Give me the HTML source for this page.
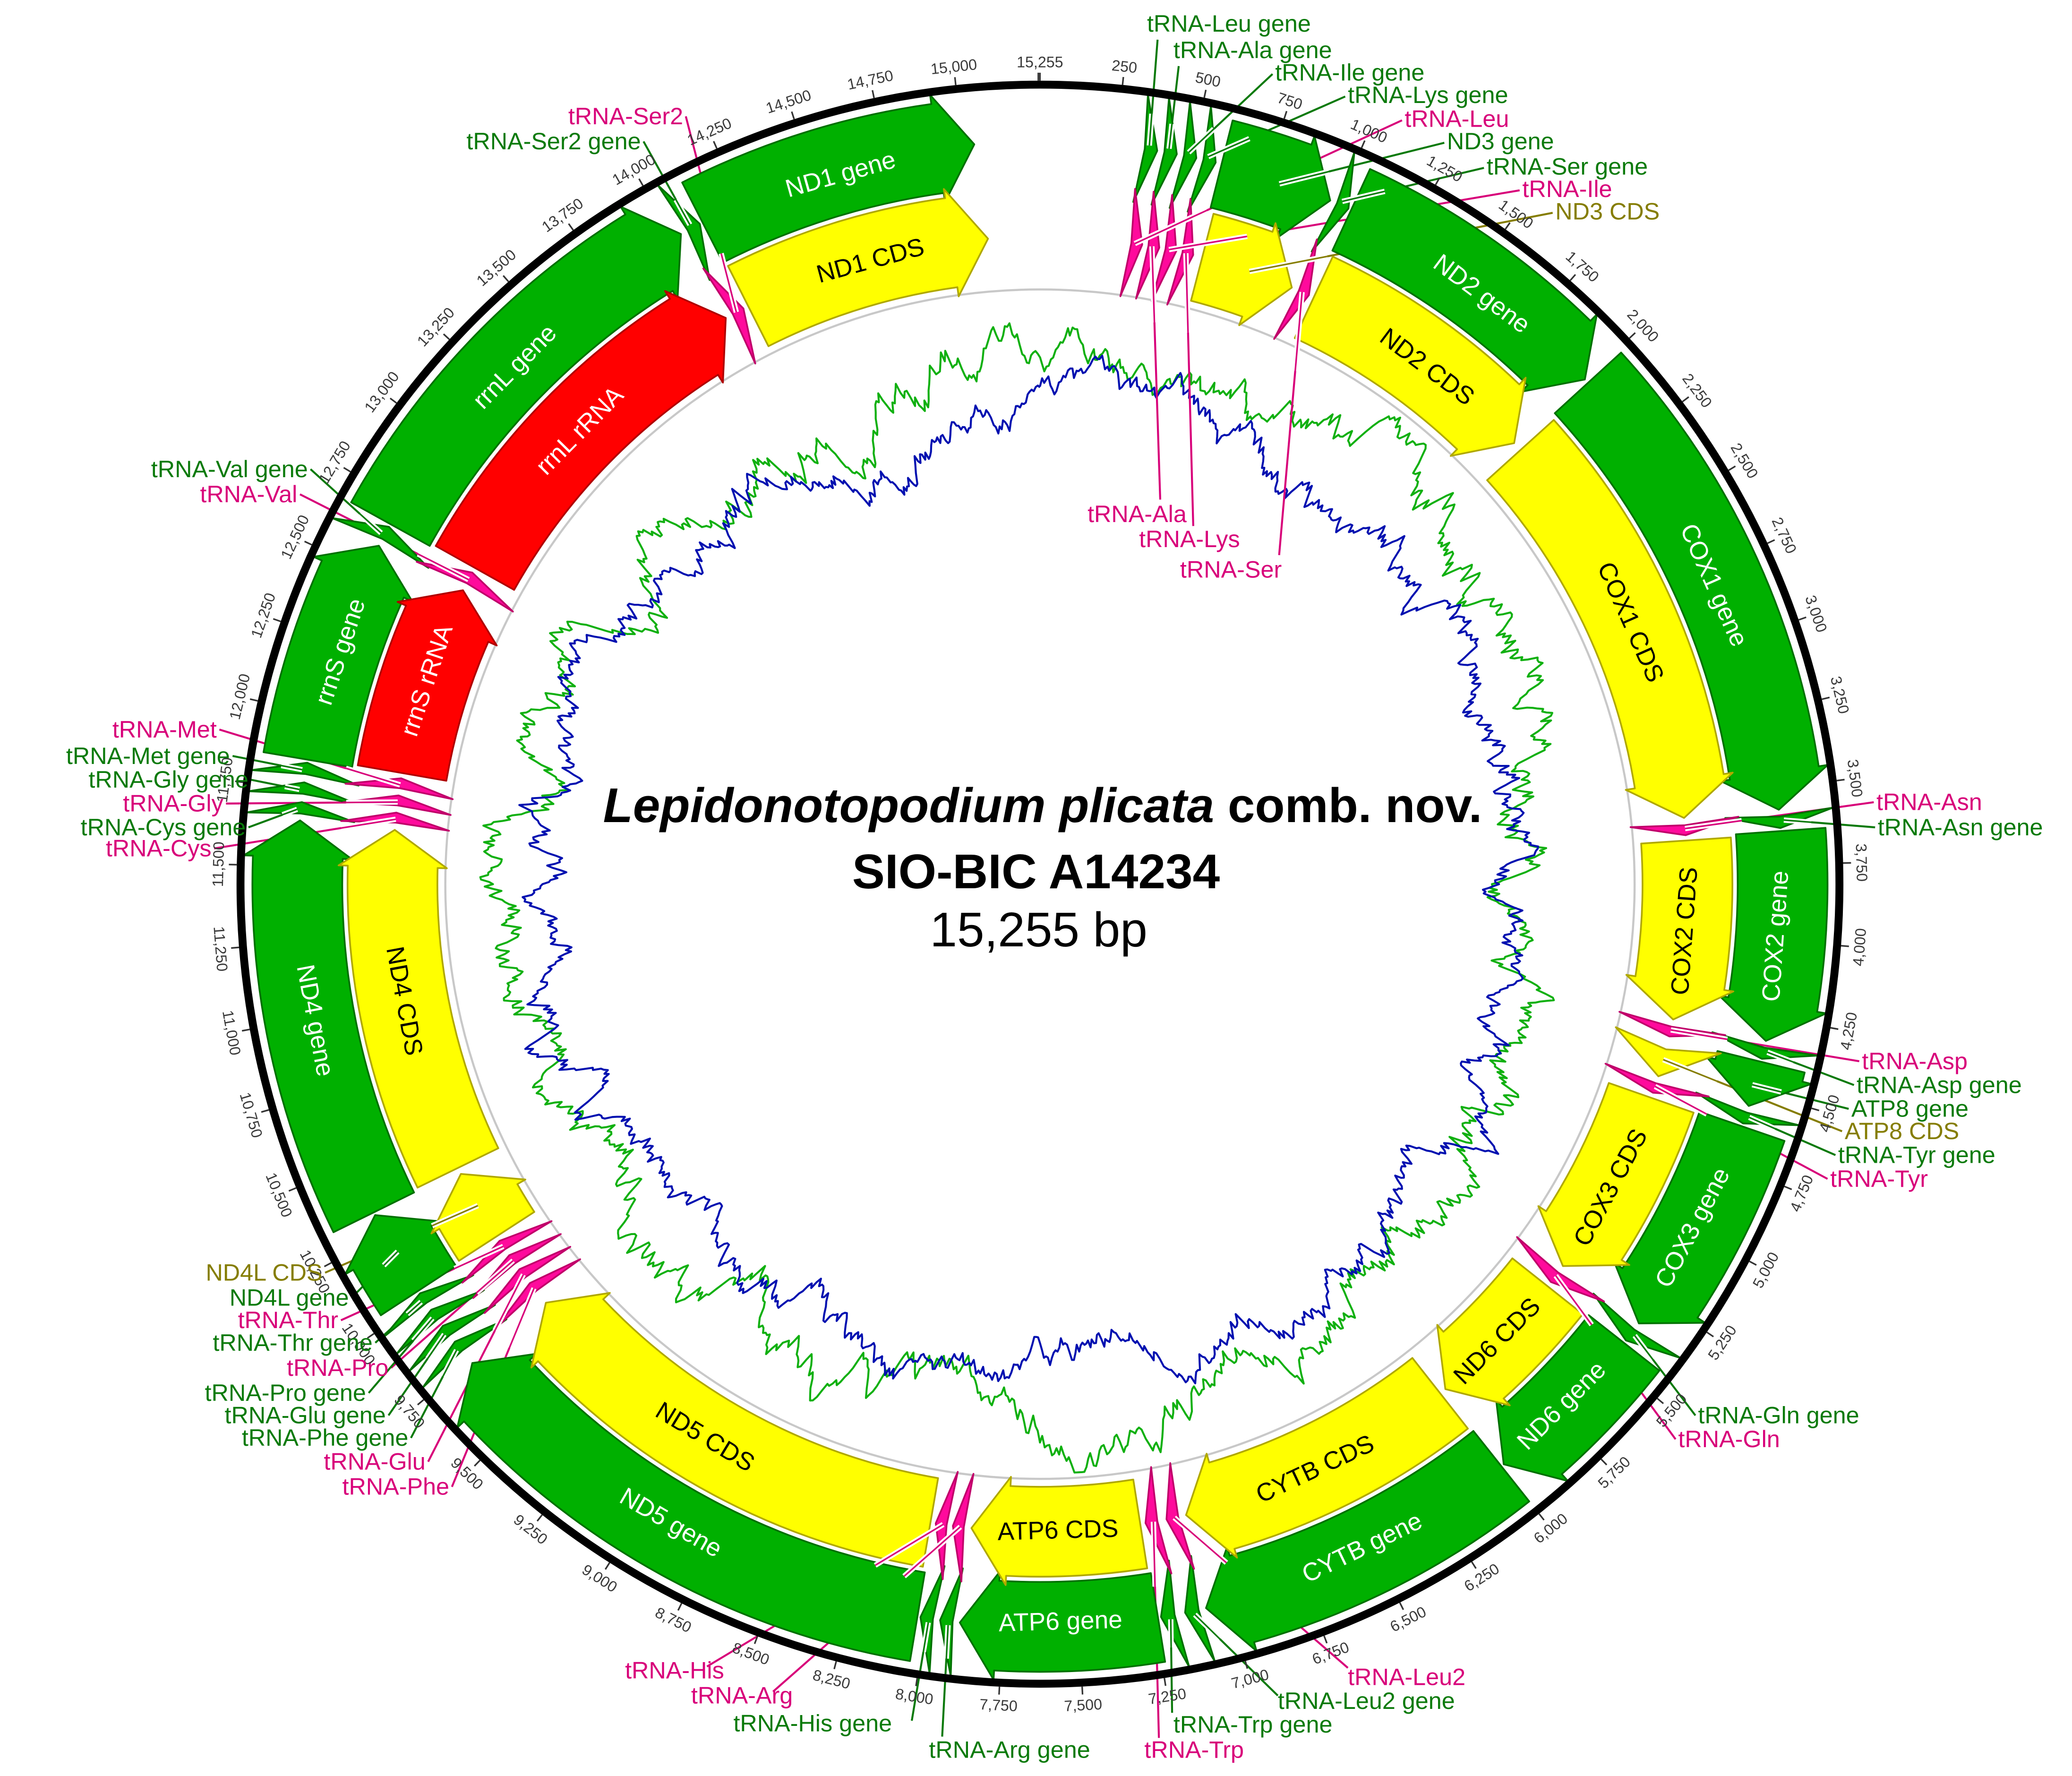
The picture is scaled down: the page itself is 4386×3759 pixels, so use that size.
<!DOCTYPE html>
<html><head><meta charset="utf-8">
<style>
html,body{margin:0;padding:0;background:#fff;}
svg{display:block;}
text{font-family:"Liberation Sans",sans-serif;}
.tk{font-size:11.5px;fill:#3a3a3a;}
.fl{font-size:19px;}
.cg{font-size:18px;fill:#0a7a0a;}
.cp{font-size:18px;fill:#d8007a;}
.co{font-size:18px;fill:#857d00;}
</style></head>
<body>
<svg id="s" xmlns="http://www.w3.org/2000/svg" width="4386" height="3759" viewBox="0 0 1568 1343.8">
<rect width="1568" height="1343.8" fill="#fff"/>
<g id="gc"></g>
<circle cx="787" cy="669" r="450" fill="none" stroke="#c8c8c8" stroke-width="1.6"/>
<g id="leads"></g>
<g id="feats"></g>
<circle cx="787" cy="669" r="605" fill="none" stroke="#000" stroke-width="6"/>
<g id="ticks"></g>
<g id="tls">
<text class="tk">250</text><text class="tk">500</text><text class="tk">750</text><text class="tk">1,000</text><text class="tk">1,250</text><text class="tk">1,500</text><text class="tk">1,750</text><text class="tk">2,000</text><text class="tk">2,250</text><text class="tk">2,500</text><text class="tk">2,750</text><text class="tk">3,000</text><text class="tk">3,250</text><text class="tk">3,500</text><text class="tk">3,750</text><text class="tk">4,000</text><text class="tk">4,250</text><text class="tk">4,500</text><text class="tk">4,750</text><text class="tk">5,000</text><text class="tk">5,250</text><text class="tk">5,500</text><text class="tk">5,750</text><text class="tk">6,000</text><text class="tk">6,250</text><text class="tk">6,500</text><text class="tk">6,750</text><text class="tk">7,000</text><text class="tk">7,250</text><text class="tk">7,500</text><text class="tk">7,750</text><text class="tk">8,000</text><text class="tk">8,250</text><text class="tk">8,500</text><text class="tk">8,750</text><text class="tk">9,000</text><text class="tk">9,250</text><text class="tk">9,500</text><text class="tk">9,750</text><text class="tk">10,000</text><text class="tk">10,250</text><text class="tk">10,500</text><text class="tk">10,750</text><text class="tk">11,000</text><text class="tk">11,250</text><text class="tk">11,500</text><text class="tk">11,750</text><text class="tk">12,000</text><text class="tk">12,250</text><text class="tk">12,500</text><text class="tk">12,750</text><text class="tk">13,000</text><text class="tk">13,250</text><text class="tk">13,500</text><text class="tk">13,750</text><text class="tk">14,000</text><text class="tk">14,250</text><text class="tk">14,500</text><text class="tk">14,750</text><text class="tk">15,000</text><text class="tk">15,255</text>
</g>
<g id="fls">
<text class="fl" p="14590" r="558" fill="#fff">ND1 gene</text>
<text class="fl" p="14610" r="489" fill="#000">ND1 CDS</text>
<text class="fl" p="13330" r="558" fill="#fff">rrnL gene</text>
<text class="fl" p="13330" r="489" fill="#fff">rrnL rRNA</text>
<text class="fl" p="12220" r="558" fill="#fff">rrnS gene</text>
<text class="fl" p="12220" r="489" fill="#fff">rrnS rRNA</text>
<text class="fl" p="10990" r="558" fill="#fff">ND4 gene</text>
<text class="fl" p="11000" r="489" fill="#000">ND4 CDS</text>
<text class="fl" p="8900" r="558" fill="#fff">ND5 gene</text>
<text class="fl" p="8950" r="489" fill="#000">ND5 CDS</text>
<text class="fl" p="7560" r="558" fill="#fff">ATP6 gene</text>
<text class="fl" p="7560" r="489" fill="#000">ATP6 CDS</text>
<text class="fl" p="6530" r="558" fill="#fff">CYTB gene</text>
<text class="fl" p="6560" r="489" fill="#000">CYTB CDS</text>
<text class="fl" p="5720" r="558" fill="#fff">ND6 gene</text>
<text class="fl" p="5720" r="489" fill="#000">ND6 CDS</text>
<text class="fl" p="4990" r="558" fill="#fff">COX3 gene</text>
<text class="fl" p="5000" r="489" fill="#000">COX3 CDS</text>
<text class="fl" p="3985" r="558" fill="#fff">COX2 gene</text>
<text class="fl" p="3990" r="489" fill="#000">COX2 CDS</text>
<text class="fl" p="2800" r="558" fill="#fff">COX1 gene</text>
<text class="fl" p="2800" r="489" fill="#000">COX1 CDS</text>
<text class="fl" p="1560" r="558" fill="#fff">ND2 gene</text>
<text class="fl" p="1560" r="489" fill="#000">ND2 CDS</text>
</g>
<g>
<text class="cg" x="868" y="24">tRNA-Leu gene</text>
<text class="cg" x="888" y="44">tRNA-Ala gene</text>
<text class="cg" x="965" y="61">tRNA-Ile gene</text>
<text class="cg" x="1020" y="78">tRNA-Lys gene</text>
<text class="cp" x="1063" y="96">tRNA-Leu</text>
<text class="cg" x="1095" y="113">ND3 gene</text>
<text class="cg" x="1125" y="132">tRNA-Ser gene</text>
<text class="cp" x="1152" y="149">tRNA-Ile</text>
<text class="co" x="1177" y="166">ND3 CDS</text>
<text class="cp" x="823" y="395">tRNA-Ala</text>
<text class="cp" x="862" y="414">tRNA-Lys</text>
<text class="cp" x="893" y="437">tRNA-Ser</text>
<text class="cp" x="1420" y="613">tRNA-Asn</text>
<text class="cg" x="1421" y="632">tRNA-Asn gene</text>
<text class="cp" x="1409" y="809">tRNA-Asp</text>
<text class="cg" x="1405" y="827">tRNA-Asp gene</text>
<text class="cg" x="1401" y="845">ATP8 gene</text>
<text class="co" x="1396" y="862">ATP8 CDS</text>
<text class="cg" x="1391" y="880">tRNA-Tyr gene</text>
<text class="cp" x="1385" y="898">tRNA-Tyr</text>
<text class="cg" x="1285" y="1077">tRNA-Gln gene</text>
<text class="cp" x="1270" y="1095">tRNA-Gln</text>
<text class="cp" x="1020" y="1275">tRNA-Leu2</text>
<text class="cg" x="967" y="1293">tRNA-Leu2 gene</text>
<text class="cg" x="888" y="1311">tRNA-Trp gene</text>
<text class="cp" x="866" y="1330">tRNA-Trp</text>
<text class="cp" x="473" y="1270">tRNA-His</text>
<text class="cp" x="523" y="1289">tRNA-Arg</text>
<text class="cg" x="555" y="1310">tRNA-His gene</text>
<text class="cg" x="703" y="1330">tRNA-Arg gene</text>
<text class="co" x="244" y="969" text-anchor="end">ND4L CDS</text>
<text class="cg" x="264" y="988" text-anchor="end">ND4L gene</text>
<text class="cp" x="256" y="1005" text-anchor="end">tRNA-Thr</text>
<text class="cg" x="282" y="1022" text-anchor="end">tRNA-Thr gene</text>
<text class="cp" x="294" y="1041" text-anchor="end">tRNA-Pro</text>
<text class="cg" x="277" y="1060" text-anchor="end">tRNA-Pro gene</text>
<text class="cg" x="292" y="1077" text-anchor="end">tRNA-Glu gene</text>
<text class="cg" x="309" y="1094" text-anchor="end">tRNA-Phe gene</text>
<text class="cp" x="322" y="1112" text-anchor="end">tRNA-Glu</text>
<text class="cp" x="340" y="1131" text-anchor="end">tRNA-Phe</text>
<text class="cp" x="164" y="558" text-anchor="end">tRNA-Met</text>
<text class="cg" x="174" y="578" text-anchor="end">tRNA-Met gene</text>
<text class="cg" x="188" y="596" text-anchor="end">tRNA-Gly gene</text>
<text class="cp" x="169" y="614" text-anchor="end">tRNA-Gly</text>
<text class="cg" x="186" y="632" text-anchor="end">tRNA-Cys gene</text>
<text class="cp" x="160" y="648" text-anchor="end">tRNA-Cys</text>
<text class="cg" x="233" y="361" text-anchor="end">tRNA-Val gene</text>
<text class="cp" x="225" y="380" text-anchor="end">tRNA-Val</text>
<text class="cp" x="517" y="94" text-anchor="end">tRNA-Ser2</text>
<text class="cg" x="485" y="113" text-anchor="end">tRNA-Ser2 gene</text>
</g>
<g text-anchor="middle" fill="#000">
<text x="789" y="622" font-size="37" font-weight="bold"><tspan font-style="italic">Lepidonotopodium plicata</tspan> comb. nov.</text>
<text x="784" y="672" font-size="37" font-weight="bold">SIO-BIC A14234</text>
<text x="786" y="716" font-size="37">15,255 bp</text>
</g>
</svg>
<script>
(function(){
var NS="http://www.w3.org/2000/svg",L=15255,CX=787,CY=669;
function pt(p,r){var a=p/L*2*Math.PI;return [CX+r*Math.sin(a),CY-r*Math.cos(a)];}
function P(a){return a[0].toFixed(2)+","+a[1].toFixed(2);}
function el(tag,attrs,parent){var e=document.createElementNS(NS,tag);for(var k in attrs)e.setAttribute(k,attrs[k]);parent.appendChild(e);return e;}
var feats=document.getElementById("feats"),leads=document.getElementById("leads");
var COL={g:["#00b000","#007000"],y:["#ffff00","#b0a800"],r:["#ff0000","#b00000"],p:["#ff0a9c","#c0006a"]};
var OUT=[528,596],IN=[456,524];
function arrow(p0,p1,tr,c){
 var rIn=tr[0],rOut=tr[1],mid=(rIn+rOut)/2,e=7;
 var hb=(28/mid)/(2*Math.PI)*L;
 var d;
 if(p1-p0<=hb*1.05){
  d="M"+P(pt(p0,rOut+e))+" L"+P(pt(p1,mid))+" L"+P(pt(p0,rIn-e))+" L"+P(pt(p0+(p1-p0)*0.25,mid))+" Z";
 } else {
  var ph=p1-hb,lg=((ph-p0)/L*360>180)?1:0;
  d="M"+P(pt(p0,rOut))+" A"+rOut+","+rOut+" 0 "+lg+" 1 "+P(pt(ph,rOut))+" L"+P(pt(ph,rOut+e))+" L"+P(pt(p1,mid))+" L"+P(pt(ph,rIn-e))+" L"+P(pt(ph,rIn))+" A"+rIn+","+rIn+" 0 "+lg+" 0 "+P(pt(p0,rIn))+" Z";
 }
 el("path",{d:d,fill:COL[c][0],stroke:COL[c][1],"stroke-width":1.3,"stroke-linejoin":"round"},feats);
}
var genes=[[600,975,615,970,"y"],[1050,2000,1060,1995,"y"],[2015,3570,2030,3565,"y"],[3640,4330,3650,4325,"y"],[4400,4550,4405,4545,"y"],[4620,5350,4630,5345,"y"],[5430,5990,5440,5985,"y"],[6000,7080,6010,7075,"y"],[7240,7890,7250,7885,"y"],[8030,9740,8040,9735,"y"],[10035,10320,10045,10315,"y"],[10330,11650,10340,11645,"y"],[11850,12590,11860,12585,"r"],[12670,14030,12680,14025,"r"],[14110,15040,14120,15060,"y"]];
genes.forEach(function(g){arrow(g[0],g[1],OUT,"g");arrow(g[2],g[3],IN,g[4]);});
var trna=[[330,385],[395,450],[460,515],[525,580],[985,1040],[3580,3630],[4340,4390],[4560,4610],[5360,5420],[7090,7150],[7170,7230],[7900,7955],[7965,8020],[9780,9830],[9845,9895],[9910,9960],[9975,10025],[11660,11710],[11725,11775],[11790,11840],[12600,12660],[14040,14100]];
trna.forEach(function(t){arrow(t[0],t[1],OUT,"g");arrow(t[0],t[1],IN,"p");});
var G="#0a7a0a",K="#d8007a",O="#857d00";
var ld=[
[357,565,876,30,G],[422,565,892,50,G],[487,565,963,56,G],[552,565,1018,73,G],[357,490,1061,91,K],[800,560,1093,108,G],[1012,565,1123,127,G],[487,490,1150,144,K],[800,490,1175,161,O],
[422,490,878,378,K],[552,490,903,398,K],[1012,490,968,420,K],
[3605,490,1418,607,K],[3605,565,1419,626,G],[4365,490,1407,803,K],[4365,565,1403,821,G],[4480,560,1399,839,G],[4480,490,1394,856,O],[4585,565,1389,874,G],[4585,490,1383,892,K],
[5390,565,1283,1071,G],[5390,490,1268,1089,K],
[7120,490,1020,1262,K],[7120,565,967,1283,G],[7200,565,887,1296,G],[7200,490,877,1315,K],
[7992,490,535,1261,K],[7927,490,585,1280,K],[7992,565,690,1302,G],[7927,565,713,1314,G],
[10180,490,246,963,O],[10180,560,266,982,G],[10000,490,258,999,K],[10000,565,284,1016,G],[9935,490,296,1035,K],[9935,565,279,1054,G],[9870,565,294,1071,G],[9805,565,311,1088,G],[9870,490,324,1106,K],[9805,490,342,1125,K],
[11815,490,166,552,K],[11815,565,176,572,G],[11750,565,190,590,G],[11750,490,171,608,K],[11685,565,188,626,G],[11685,490,162,642,K],
[12630,565,235,355,G],[12630,490,227,374,K],[14070,490,519,88,K],[14070,565,487,107,G]];
ld.forEach(function(l){var a=pt(l[0],l[1]);
 el("line",{x1:a[0],y1:a[1],x2:l[2],y2:l[3],stroke:l[4],"stroke-width":1.5},leads);});
var lc=document.createElementNS(NS,"g");document.getElementById("s").insertBefore(lc,document.getElementById("ticks"));
ld.forEach(function(l){var a=pt(l[0],l[1]);var dx=l[2]-a[0],dy=l[3]-a[1],n=Math.sqrt(dx*dx+dy*dy),k=Math.min(60,n*0.3)/n;
 el("line",{x1:a[0],y1:a[1],x2:a[0]+dx*k,y2:a[1]+dy*k,stroke:"#fff","stroke-width":4},lc);
 el("line",{x1:a[0],y1:a[1],x2:a[0]+dx*k,y2:a[1]+dy*k,stroke:l[4],"stroke-width":1.2},lc);});
var tk=document.getElementById("ticks");
for(var p=0;p<=15255;p+=250){var q=p;var a=pt(q,608),b=pt(q,614);el("line",{x1:a[0],y1:a[1],x2:b[0],y2:b[1],stroke:"#333","stroke-width":1.2},tk);}
function place(t,p,r){var th=p/L*360,tr;
 if(th>90&&th<270){tr="rotate("+(th-180).toFixed(3)+" "+CX+" "+CY+") translate("+CX+" "+(CY+r)+")";}
 else{tr="rotate("+th.toFixed(3)+" "+CX+" "+CY+") translate("+CX+" "+(CY-r)+")";}
 t.setAttribute("transform",tr);t.setAttribute("text-anchor","middle");t.setAttribute("dominant-baseline","central");}
var tls=document.querySelectorAll("#tls text");
for(var i=0;i<tls.length;i++){var v=parseInt(tls[i].textContent.replace(/,/g,""),10);if(v>=15255)v=15254.9;place(tls[i],v,622);}
var fls=document.querySelectorAll("#fls text");
for(var i=0;i<fls.length;i++){place(fls[i],parseFloat(fls[i].getAttribute("p")),parseFloat(fls[i].getAttribute("r")));}
var seed=12345;function rnd(){seed=(seed*1103515245+12345)&0x7fffffff;return seed/0x7fffffff;}
var gc=document.getElementById("gc");
function curve(base,amp,col,sd){seed=sd;var N=1500,v=0,d="";
 for(var i=0;i<=N;i++){v+= (rnd()-0.5)*amp - v*0.035; var low=8*Math.sin(i/N*2*Math.PI*3+sd%7)+5*Math.sin(i/N*2*Math.PI*7+sd%5);
  var r=base+v+low; if(r>446)r=446; var a=pt(i/N*L,r); d+=(i?"L":"M")+a[0].toFixed(1)+","+a[1].toFixed(1);}
 el("path",{d:d,fill:"none",stroke:col,"stroke-width":1.5,"stroke-linejoin":"round"},gc);}
curve(398,16,"#10b010",777);
curve(368,13,"#0010b0",4242);
})();
</script>
</body></html>
